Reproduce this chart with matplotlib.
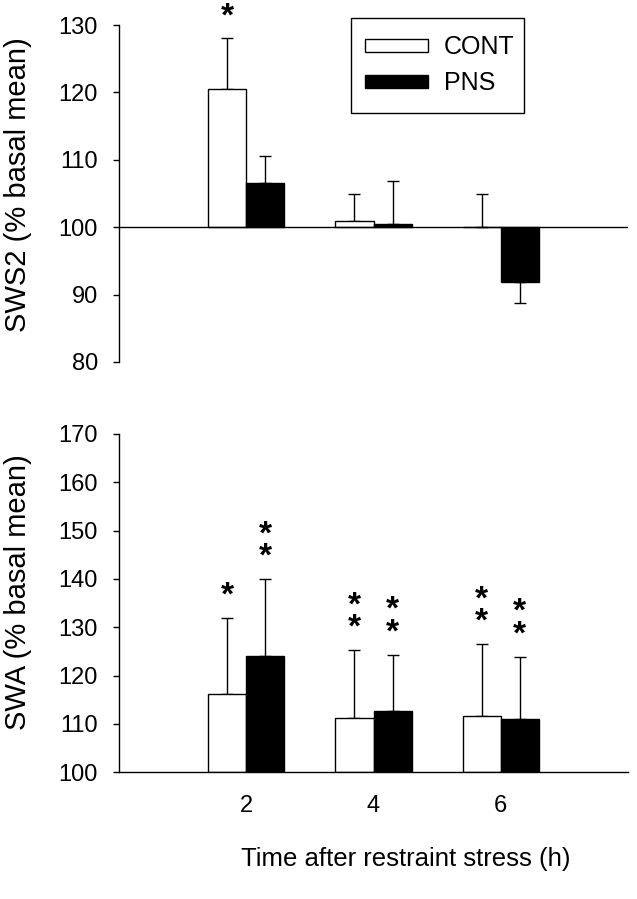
import matplotlib
matplotlib.use('Agg')
import matplotlib.pyplot as plt
from matplotlib.patches import Rectangle
import numpy as np

plt.rcParams['font.family'] = ['Liberation Sans', 'DejaVu Sans']

# data (% of basal mean, mean and SEM)
hours = [2, 4, 6]

sws2_cont = [120.5, 100.85, 100.05]
sws2_cont_err = [7.5, 4.05, 4.9]
sws2_pns = [106.5, 100.45, 91.9]
sws2_pns_err = [4.1, 6.45, 3.1]
sws2_cont_stars = [1, 0, 0]
sws2_pns_stars = [0, 0, 0]

swa_cont = [116.2, 111.3, 111.7]
swa_cont_err = [15.7, 14.0, 14.8]
swa_pns = [124.1, 112.75, 111.1]
swa_pns_err = [15.9, 11.55, 12.8]
swa_cont_stars = [1, 2, 2]
swa_pns_stars = [2, 2, 2]

BASE = 100
W = 0.6


def draw_group(ax, vals, errs, stars, offs, color, label):
    x = np.array(hours) + offs
    vals = np.array(vals)
    bars = ax.bar(x, vals - BASE, width=W, bottom=BASE, color=color,
                  edgecolor='black', linewidth=1.0, label=label, zorder=2)
    lower = [e if v < BASE else 0 for v, e in zip(vals, errs)]
    upper = [e if v >= BASE else 0 for v, e in zip(vals, errs)]
    ax.errorbar(x, vals, yerr=[lower, upper], fmt='none', ecolor='black',
                elinewidth=1.0, capsize=4.5, capthick=1.0, zorder=1)
    for xi, v, e, n in zip(x, vals, errs, stars):
        if n == 0:
            continue
        top = v + e if v >= BASE else v
        # significance stars stacked above the error bar
        ax.annotate('\n'.join(['*'] * n), xy=(xi, top), xytext=(0, 4.5),
                    textcoords='offset points', ha='center', va='bottom',
                    fontsize=24, fontweight='bold', linespacing=0.65,
                    annotation_clip=False)
    return bars


fig = plt.figure(figsize=(6.37, 8.99), dpi=100)
ax1 = fig.add_axes([119 / 637, 1 - 362 / 899, 509 / 637, 337 / 899])
ax2 = fig.add_axes([119 / 637, 1 - 772.3 / 899, 509 / 637, 338.3 / 899])

# top panel: SWS2
draw_group(ax1, sws2_cont, sws2_cont_err, sws2_cont_stars, -W / 2, 'white', 'CONT')
draw_group(ax1, sws2_pns, sws2_pns_err, sws2_pns_stars, W / 2, 'black', 'PNS')
ax1.axhline(BASE, color='black', lw=1.0, zorder=3)
ax1.set_xlim(0, 8)
ax1.set_ylim(80, 130)
ax1.set_yticks(np.arange(80, 131, 10))
ax1.set_xticks([])
for s in ['top', 'right', 'bottom']:
    ax1.spines[s].set_visible(False)
ax1.spines['left'].set_linewidth(1.0)
ax1.tick_params(axis='y', direction='out', length=4.3, width=1.0, pad=10.8,
                labelsize=17)
ax1.set_ylabel('SWS2 (% basal mean)', fontsize=21)
ax1.yaxis.set_label_coords(-0.171, 0.527)

leg = ax1.legend(loc='center left', bbox_to_anchor=(0.4833, 0.8806),
                 borderaxespad=0, borderpad=0, fontsize=18, frameon=False,
                 handlelength=2.52, handleheight=0.42, handletextpad=0.64,
                 labelspacing=0.46)
ax1.add_patch(Rectangle((0.4558, 0.7398), 0.3399, 0.2819, transform=ax1.transAxes,
                        fill=False, edgecolor='black', lw=1.0, clip_on=False))

# bottom panel: SWA
draw_group(ax2, swa_cont, swa_cont_err, swa_cont_stars, -W / 2, 'white', 'CONT')
draw_group(ax2, swa_pns, swa_pns_err, swa_pns_stars, W / 2, 'black', 'PNS')
ax2.set_xlim(0, 8)
ax2.set_ylim(100, 170)
ax2.set_yticks(np.arange(100, 171, 10))
ax2.set_xticks(hours)
for s in ['top', 'right']:
    ax2.spines[s].set_visible(False)
ax2.spines['left'].set_linewidth(1.0)
ax2.spines['bottom'].set_linewidth(1.0)
ax2.tick_params(axis='y', direction='out', length=4.3, width=1.0, pad=10.8,
                labelsize=17)
ax2.tick_params(axis='x', length=0, pad=16.5, labelsize=17)
ax2.set_ylabel('SWA (% basal mean)', fontsize=21)
ax2.yaxis.set_label_coords(-0.171, 0.534)
ax2.set_xlabel('Time after restraint stress (h)', fontsize=18.5)
ax2.xaxis.set_label_coords((406 - 119) / 509, (772.3 - 847) / 338.3)

fig.savefig('out.png', dpi=100)
